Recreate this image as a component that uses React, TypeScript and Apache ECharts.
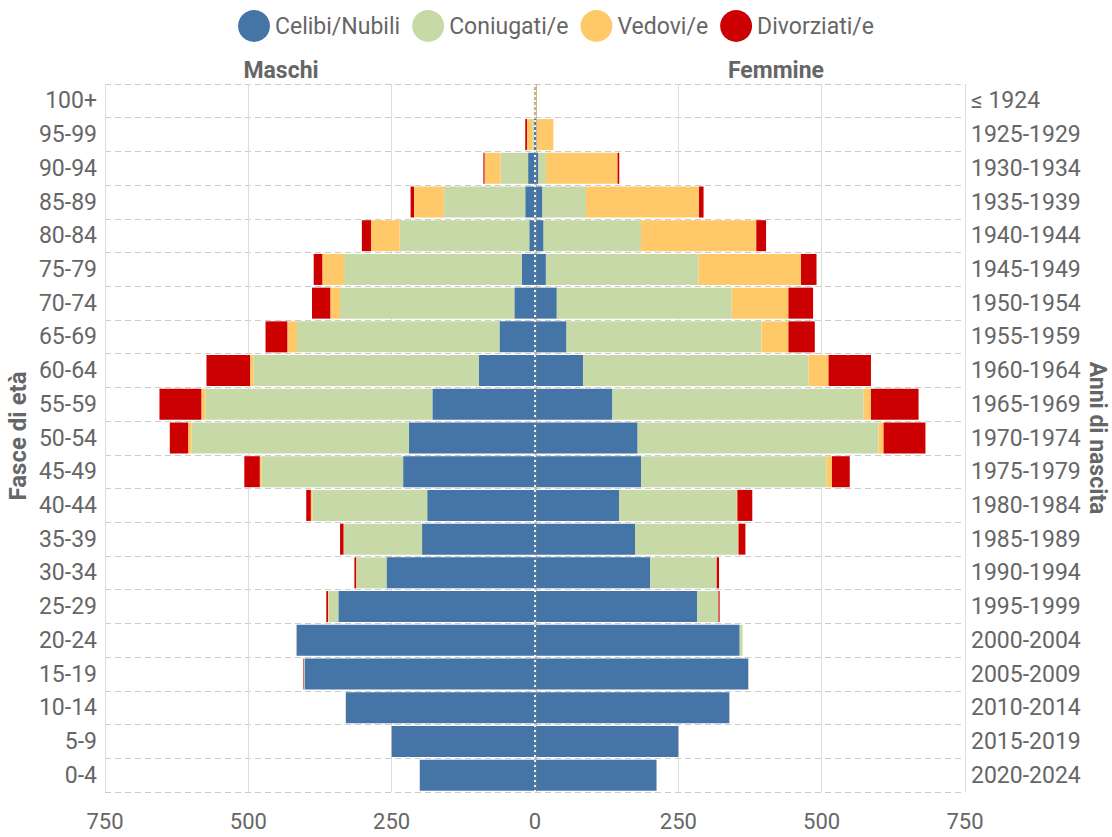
import React, { useEffect, useRef } from "react";
import * as echarts from "echarts";

const ageGroups = ["0-4", "5-9", "10-14", "15-19", "20-24", "25-29", "30-34", "35-39", "40-44", "45-49", "50-54", "55-59", "60-64", "65-69", "70-74", "75-79", "80-84", "85-89", "90-94", "95-99", "100+"];
const birthYears = ["2020-2024", "2015-2019", "2010-2014", "2005-2009", "2000-2004", "1995-1999", "1990-1994", "1985-1989", "1980-1984", "1975-1979", "1970-1974", "1965-1969", "1960-1964", "1955-1959", "1950-1954", "1945-1949", "1940-1944", "1935-1939", "1930-1934", "1925-1929", "≤ 1924"];

const statusNames = ["Celibi/Nubili", "Coniugati/e", "Vedovi/e", "Divorziati/e"];
const statusColors = ["#4574a6", "#c6d9a7", "#ffc96a", "#cc0000"];

const maleSingle = [201, 250, 330, 402, 416, 343, 259, 197, 188, 230, 220, 179, 98, 62, 36, 23, 10, 17, 12, 2, 0];
const maleMarried = [0, 0, 0, 1, 1, 17, 52, 136, 200, 247, 379, 396, 393, 353, 304, 310, 226, 142, 48, 2, 1];
const maleWidowed = [0, 0, 0, 0, 0, 1, 1, 1, 3, 3, 6, 7, 6, 17, 17, 38, 50, 52, 28, 10, 1];
const maleDivorced = [0, 0, 0, 1, 0, 3, 3, 6, 8, 27, 32, 73, 76, 38, 32, 15, 16, 6, 2, 3, 0];

const femaleSingle = [212, 250, 339, 372, 357, 283, 201, 175, 147, 185, 179, 135, 84, 55, 38, 19, 15, 13, 6, 2, 0];
const femaleMarried = [0, 0, 0, 1, 5, 37, 115, 179, 205, 323, 420, 438, 393, 340, 305, 266, 170, 76, 13, 1, 0];
const femaleWidowed = [0, 0, 0, 0, 0, 0, 1, 1, 1, 10, 9, 13, 35, 47, 99, 179, 201, 197, 125, 29, 3];
const femaleDivorced = [0, 0, 0, 0, 0, 2, 4, 12, 26, 31, 73, 83, 74, 46, 43, 27, 17, 8, 3, 0, 0];

const xTicks = { min: -750, max: 750, interval: 250 };

const FONT = "Roboto, 'Liberation Sans', sans-serif";
const GRAY = "#666";
const FS = 23;

export default function App() {
  const ref = useRef<HTMLDivElement>(null);

  useEffect(() => {
    document.body.style.margin = "0";
    if (!ref.current) return;
    const chart = echarts.init(ref.current, null, { renderer: "svg" });

    const male = [maleSingle, maleMarried, maleWidowed, maleDivorced];
    const female = [femaleSingle, femaleMarried, femaleWidowed, femaleDivorced];

    const series: any[] = [];
    male.forEach((arr, i) => {
      series.push({
        name: statusNames[i],
        type: "bar",
        stack: "m",
        data: arr.map((v) => -v),
        itemStyle: { color: statusColors[i] },
        barCategoryGap: "8%",
        barGap: "-100%",
      });
    });
    female.forEach((arr, i) => {
      const s: any = {
        name: statusNames[i],
        type: "bar",
        stack: "f",
        data: arr.slice(),
        itemStyle: { color: statusColors[i] },
        barCategoryGap: "8%",
        barGap: "-100%",
      };
      if (i === 3) {
        s.markLine = {
          silent: true,
          symbol: "none",
          label: { show: false },
          animation: false,
          data: [
            { xAxis: 0, lineStyle: { color: "#7a8a8a", width: 3, type: "solid", opacity: 0.4 } },
            { xAxis: 0, lineStyle: { color: "#ffffff", width: 2, type: [2, 3], opacity: 0.9 } },
          ],
        };
      }
      series.push(s);
    });

    chart.setOption({
      animation: false,
      textStyle: { fontFamily: FONT },
      legend: {
        top: 5,
        left: "center",
        data: statusNames,
        icon: "circle",
        itemWidth: 32,
        itemHeight: 32,
        itemGap: 12,
        textStyle: { fontSize: FS, color: GRAY, fontFamily: FONT },
      },
      grid: { left: 105, right: 147, top: 84, bottom: 45, containLabel: false },
      xAxis: {
        type: "value",
        min: xTicks.min,
        max: xTicks.max,
        interval: xTicks.interval,
        axisLine: { show: false },
        axisTick: { show: false },
        splitLine: { show: true, lineStyle: { color: "#dddddd", width: 1, type: "solid" } },
        axisLabel: {
          formatter: (v: number) => String(Math.abs(v)),
          fontSize: 22,
          color: GRAY,
          margin: 18,
          fontFamily: FONT,
        },
      },
      yAxis: [
        {
          type: "category",
          data: ageGroups,
          position: "left",
          axisLine: { show: false },
          axisTick: { show: false },
          splitLine: { show: true, interval: 0, lineStyle: { color: "#cccccc", type: [6, 4] } },
          axisLabel: { fontSize: FS, color: GRAY, margin: 8, fontFamily: FONT },
        },
        {
          type: "category",
          data: birthYears,
          position: "right",
          axisLine: { show: false },
          axisTick: { show: false },
          splitLine: { show: false },
          axisLabel: { fontSize: FS, color: GRAY, margin: 6, fontFamily: FONT },
        },
      ],
      graphic: [
        { type: "text", x: 281, y: 70, style: { text: "Maschi", fill: GRAY, font: `bold ${FS}px ${FONT}`, align: "center", verticalAlign: "middle" } },
        { type: "text", x: 776, y: 70, style: { text: "Femmine", fill: GRAY, font: `bold ${FS}px ${FONT}`, align: "center", verticalAlign: "middle" } },
        { type: "text", x: 18, y: 436, rotation: Math.PI / 2, style: { text: "Fasce di età", fill: GRAY, font: `bold 24px ${FONT}`, align: "center", verticalAlign: "middle" } },
        { type: "text", x: 1097, y: 438, rotation: -Math.PI / 2, style: { text: "Anni di nascita", fill: GRAY, font: `bold ${FS}px ${FONT}`, align: "center", verticalAlign: "middle" } },
      ],
      series,
    });

    return () => chart.dispose();
  }, []);

  return <div ref={ref} style={{ width: 1112, height: 837 }} />;
}
